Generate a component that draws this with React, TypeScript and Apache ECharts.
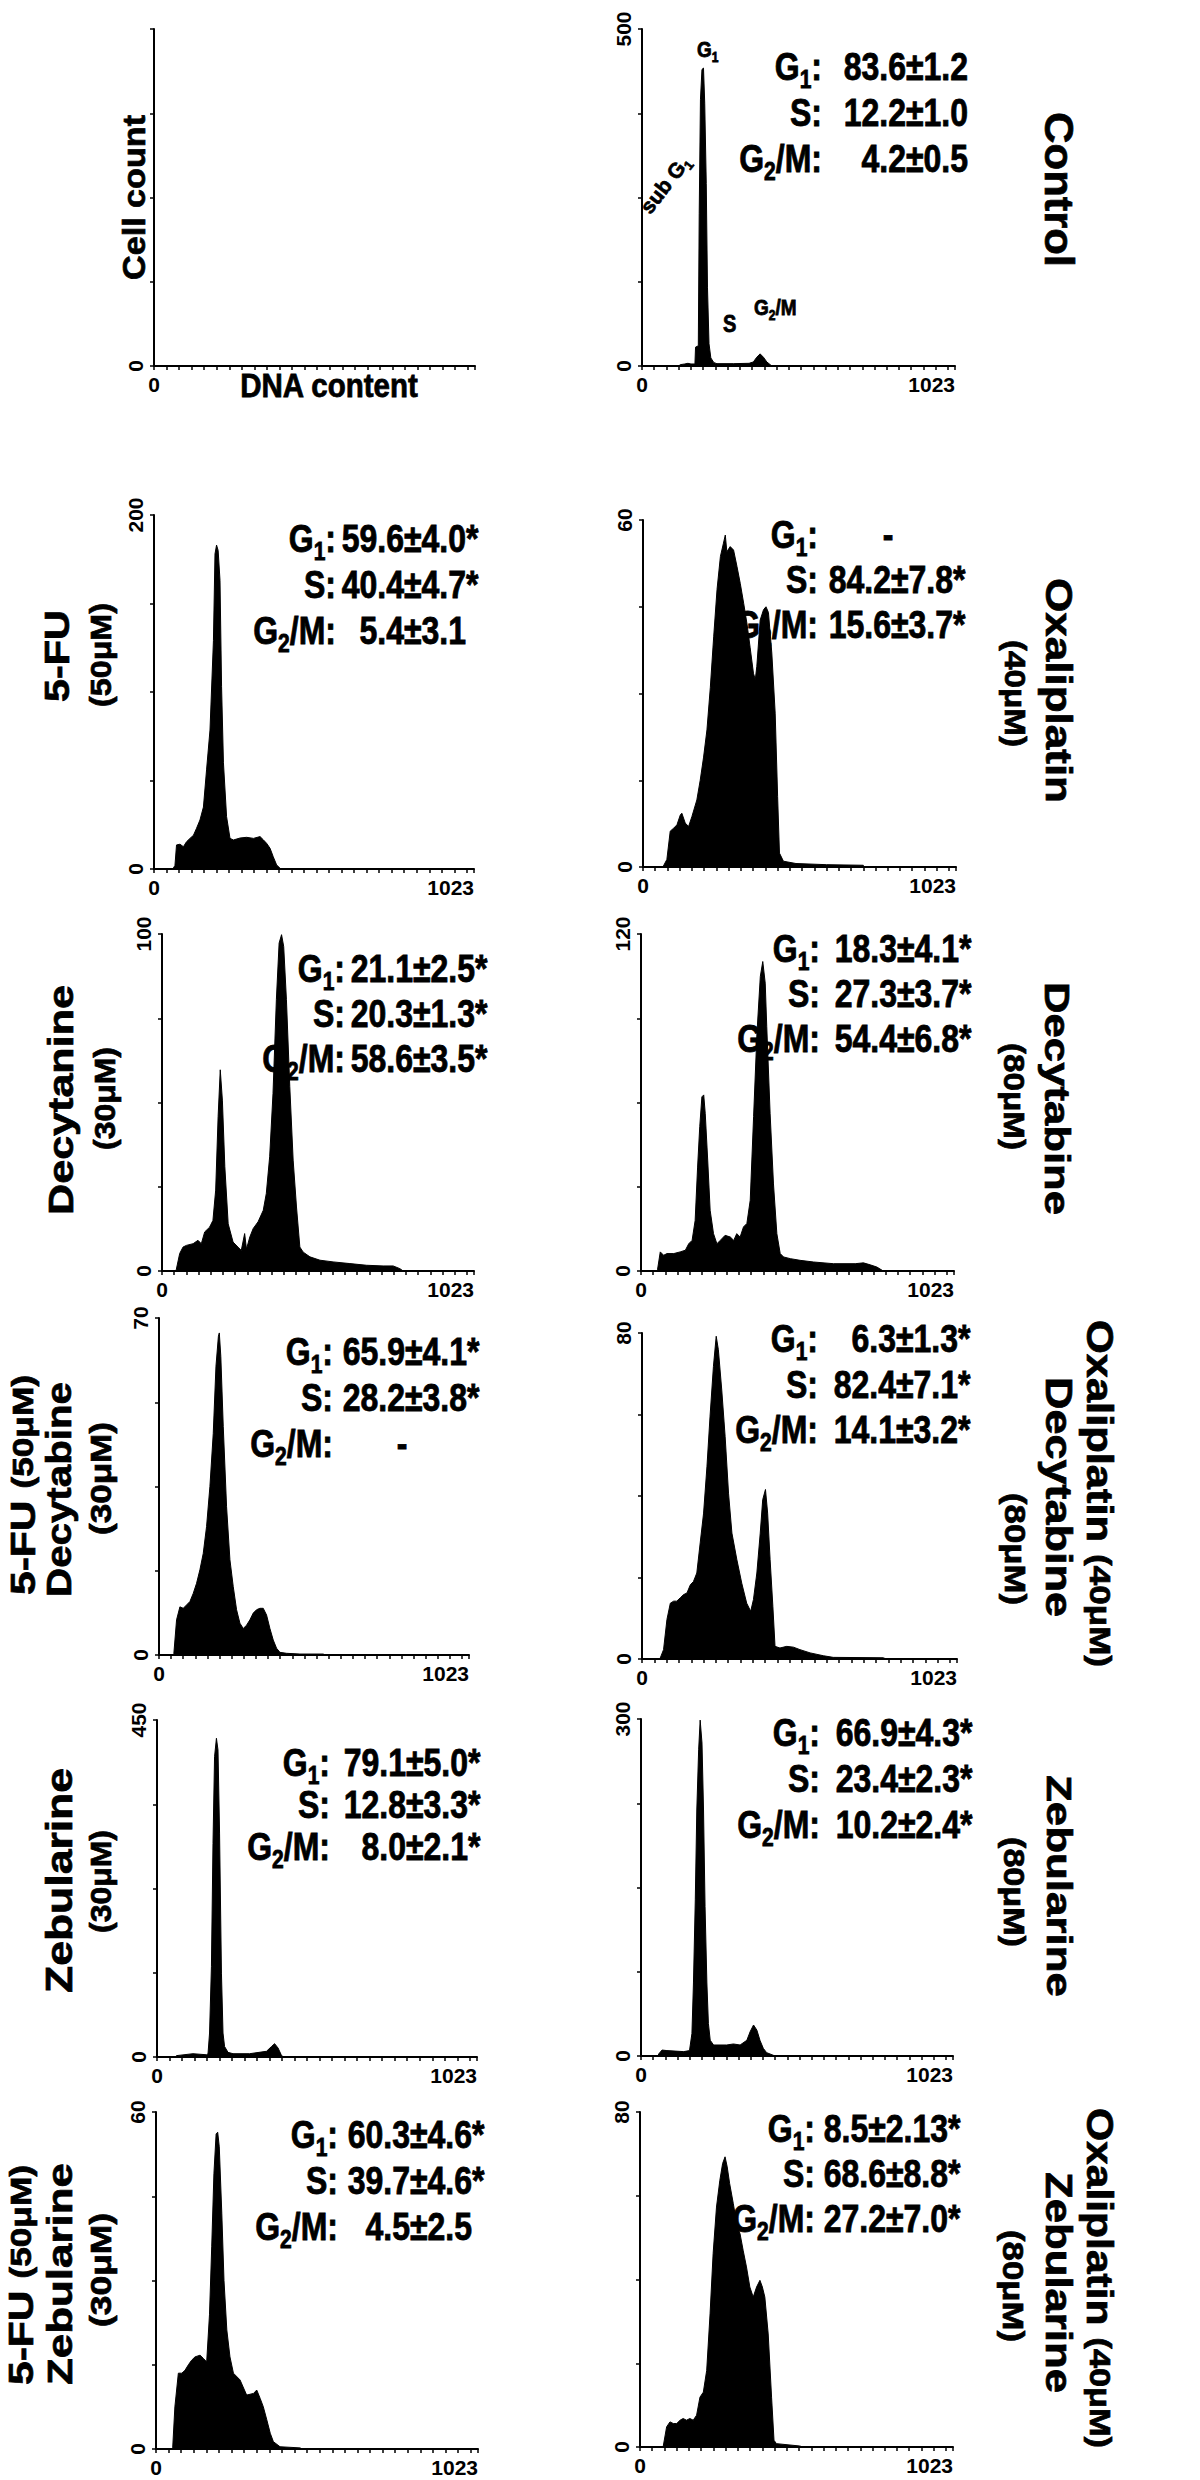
import React, { useEffect, useRef } from "react";
import * as echarts from "echarts";

const FONT = "'Liberation Sans', Arial, Helvetica, sans-serif";

// ---------- axes ----------
const X_MAX = 1023;
const X_TICK_STEP = 40;
const X_LABELS = [0, 1023];
const X_LABELS_BLANK = [0];

// panel order: row by row, left then right
const PANEL_NAMES = [
  "Template", "Control", "5-FU", "Oxaliplatin", "Decytanine 30", "Decytabine 80",
  "5-FU + Decytabine", "Oxaliplatin + Decytabine", "Zebularine 30", "Zebularine 80",
  "5-FU + Zebularine", "Oxaliplatin + Zebularine",
];
const Y_MAX = [500, 500, 200, 60, 100, 120, 70, 80, 450, 300, 60, 80];

// ---------- histograms: [DNA content channel, cell count] ----------
const HIST_CONTROL = [[120,0],[125,2],[140,3],[150,4],[160,3],[173,3],[175,28],[184,30],[187,226],[191,395],[196,440],[201,442],[205,390],[210,271],[214,117],[219,33],[225,12],[235,5],[245,3.5],[300,3.5],[350,4],[364,6],[375,13],[386,18],[397,13],[408,6],[419,2],[425,0]];
const HIST_FU = [[60,0],[67,2],[72,13.6],[83,14],[94,12.6],[104,15.4],[115,17.3],[126,19],[136,23],[147,27.7],[158,35],[168,56],[179,78.5],[190,129],[195,178],[200,183],[205,180],[211,163],[216,103],[222,60],[232,29.6],[243,17.3],[254,16.4],[275,17.5],[296,17.9],[318,17.3],[339,18.3],[350,16.4],[360,14.5],[371,11.7],[381,7],[392,2.3],[403,0.4],[408,0]];
const HIST_OXA = [[65,0],[78,1.3],[89,6.2],[100,6.7],[111,7.3],[122,9],[127,9.3],[138,7.6],[149,7],[160,8.75],[176,11.6],[187,15],[198,19],[209,23.7],[220,31],[231,39.8],[242,48],[253,53.7],[263,56],[269,57.4],[274,54.5],[285,55.4],[296,54.8],[307,52],[318,49],[329,45.6],[340,42],[350,38],[361,33.5],[367,32.4],[372,34.7],[383,42.7],[394,44.5],[402,45],[410,44],[421,37],[432,26.6],[440,12.2],[446,2.4],[459,1],[500,0.6],[600,0.4],[720,0.3],[722,0]];
const HIST_DEC30 = [[45,0],[47,0.5],[58,5.2],[69,7.1],[80,7.6],[102,8.1],[118,9.1],[129,8.1],[140,11.6],[156,13],[167,15],[176,24],[184,45.8],[191,59.7],[198,50.7],[206,31],[217,14],[233,8.6],[249,7.1],[260,6.1],[271,11.1],[277,6.5],[288,10.1],[299,12.6],[315,14.6],[332,18],[342,23],[353,33.9],[364,52.7],[375,80.5],[384,97.3],[392,99.8],[399,96.3],[408,80.5],[419,54.7],[430,32.9],[441,19],[452,7.1],[463,5.6],[485,4.2],[518,3.2],[561,2.7],[616,2.2],[671,1.7],[725,1.5],[758,1.5],[780,0.7],[791,0]];
const HIST_DEC80 = [[52,0],[54,0.5],[63,6.8],[74,5.6],[85,6.2],[107,6.2],[128,6.8],[145,7.4],[156,9.7],[167,10.9],[177,18],[185,37],[192,51.4],[199,62],[205,62.7],[210,56],[218,39.5],[226,21.6],[237,13.3],[248,9.7],[259,10.9],[275,12.7],[292,12.1],[303,10.9],[313,13.3],[324,12.1],[335,15.7],[346,16.9],[357,25.2],[368,55],[379,84.7],[390,104.9],[398,110.2],[406,102.5],[411,87],[422,56],[433,31],[444,13.3],[455,6.2],[466,5],[488,4.4],[520,3.8],[564,3.2],[629,2.6],[700,2.6],[727,2.9],[749,2.2],[771,1.4],[792,0]];
const HIST_FU_DEC = [[47,0],[49,0.3],[58,7.3],[69,10],[80,9.7],[91,10.4],[102,11.1],[113,12.8],[124,14.9],[135,17.7],[146,21.1],[157,26.7],[168,35],[179,46],[188,60],[196,66.2],[199,66.9],[204,62],[212,47.5],[223,30.8],[234,19.8],[245,14.2],[256,9.4],[267,6.6],[278,5.5],[289,6.2],[300,7.3],[311,8.7],[322,9.4],[333,9.7],[344,9.7],[355,8.3],[366,5.5],[377,3.1],[388,1.4],[399,0.55],[421,0.35],[465,0.2],[542,0.2],[547,0]];
const HIST_OXA_DEC = [[57,0],[59,0.2],[70,2.3],[81,9.7],[92,13.7],[103,14.2],[113,14.2],[124,15],[135,15.8],[146,16.2],[157,18.2],[167,19],[178,21.1],[189,28.5],[200,35.8],[211,47.3],[221,59.6],[232,71.8],[241,79.2],[248,75.9],[259,66],[270,54.6],[281,40.7],[292,30.9],[308,24.4],[324,18.6],[340,13.7],[353,11.7],[362,14.6],[373,21.1],[384,30.9],[392,39.1],[401,41.6],[408,35.8],[416,24.4],[425,12.9],[432,3.1],[448,2.7],[470,3.1],[492,2.9],[513,2.3],[546,1.5],[589,0.8],[621,0.4],[783,0.3],[794,0]];
const HIST_ZEB30 = [[60,0],[62,1.8],[115,4.4],[158,3],[163,4],[168,32],[174,121],[179,285],[184,401],[190,425.6],[195,410],[200,299],[206,112],[211,32],[216,14],[227,6.2],[243,4.4],[296,4.4],[350,7.6],[366,14],[376,17.8],[387,12],[397,3],[403,0]];
const HIST_ZEB80 = [[56,0],[58,1.8],[69,5.3],[85,4.8],[140,3.9],[159,4.8],[167,20],[172,65],[178,139],[183,219],[189,272.6],[194,299],[200,278.6],[205,219],[210,133],[216,65],[221,29],[227,14],[238,9.8],[281,9.8],[303,10.7],[325,9.8],[347,14],[358,21.7],[369,27.6],[380,23],[390,14],[401,6.8],[412,3],[434,0.6],[440,0]];
const HIST_FU_ZEB = [[51,0],[53,0.2],[60,7.5],[71,13.5],[82,13.5],[92,14],[103,15],[113,15.8],[124,16.4],[140,16.7],[151,16.1],[161,15.5],[170,24],[177,36],[184,49],[191,56.1],[196,56.4],[201,53.8],[209,42],[216,30],[225,21.2],[235,16.4],[246,13.5],[267,12.3],[288,9.6],[310,9.9],[320,10.5],[331,9],[341,7.5],[352,5.2],[363,2.8],[373,1.3],[394,0.4],[458,0.2],[463,0]];
const HIST_OXA_ZEB = [[74,0],[76,0.2],[87,4.8],[98,6],[109,5.6],[120,5.6],[131,6.4],[141,6.8],[152,6.4],[163,6.8],[174,6.4],[185,7.6],[196,11.9],[207,13.1],[218,18.3],[229,31.8],[239,46.2],[250,57.3],[261,63.7],[270,67.7],[278,69.3],[285,66.9],[293,62.9],[305,58.1],[316,53.3],[327,50.9],[337,47],[348,43],[359,38.2],[370,35.8],[381,38.2],[392,39.8],[400,38.2],[408,35.8],[419,27],[430,11.9],[438,1.6],[446,0.8],[522,0.24],[533,0]];

const HISTS: number[][][] = [
  [], HIST_CONTROL, HIST_FU, HIST_OXA, HIST_DEC30, HIST_DEC80,
  HIST_FU_DEC, HIST_OXA_DEC, HIST_ZEB30, HIST_ZEB80, HIST_FU_ZEB, HIST_OXA_ZEB,
];

// ---------- cell-cycle percentages (label, value) ----------
const STATS_CONTROL = [["G_1:", "83.6±1.2"], ["S:", "12.2±1.0"], ["G_2/M:", "4.2±0.5"]];
const STATS_FU = [["G_1:", "59.6±4.0*"], ["S:", "40.4±4.7*"], ["G_2/M:", "5.4±3.1"]];
const STATS_OXA = [["G_1:", "-"], ["S:", "84.2±7.8*"], ["G_2/M:", "15.6±3.7*"]];
const STATS_DEC30 = [["G_1:", "21.1±2.5*"], ["S:", "20.3±1.3*"], ["G_2/M:", "58.6±3.5*"]];
const STATS_DEC80 = [["G_1:", "18.3±4.1*"], ["S:", "27.3±3.7*"], ["G_2/M:", "54.4±6.8*"]];
const STATS_FU_DEC = [["G_1:", "65.9±4.1*"], ["S:", "28.2±3.8*"], ["G_2/M:", "-"]];
const STATS_OXA_DEC = [["G_1:", "6.3±1.3*"], ["S:", "82.4±7.1*"], ["G_2/M:", "14.1±3.2*"]];
const STATS_ZEB30 = [["G_1:", "79.1±5.0*"], ["S:", "12.8±3.3*"], ["G_2/M:", "8.0±2.1*"]];
const STATS_ZEB80 = [["G_1:", "66.9±4.3*"], ["S:", "23.4±2.3*"], ["G_2/M:", "10.2±2.4*"]];
const STATS_FU_ZEB = [["G_1:", "60.3±4.6*"], ["S:", "39.7±4.6*"], ["G_2/M:", "4.5±2.5"]];
const STATS_OXA_ZEB = [["G_1:", "8.5±2.13*"], ["S:", "68.6±8.8*"], ["G_2/M:", "27.2±7.0*"]];

const STATS: (string[][] | null)[] = [
  null, STATS_CONTROL, STATS_FU, STATS_OXA, STATS_DEC30, STATS_DEC80,
  STATS_FU_DEC, STATS_OXA_DEC, STATS_ZEB30, STATS_ZEB80, STATS_FU_ZEB, STATS_OXA_ZEB,
];

// ---------- layout (pixels) ----------
// [left, top, right, bottom] of each plotting area
const GRID_BOXES = [
  [154, 29, 475, 366], [642, 29, 955, 366],
  [154, 515, 474, 869], [643, 520, 956, 867],
  [162, 934, 474, 1271], [641, 934, 954, 1271],
  [159, 1318, 469, 1655], [642, 1333, 957, 1659],
  [157, 1720, 477, 2057], [641, 1719, 953, 2056],
  [156, 2112, 478, 2449], [640, 2112, 953, 2447],
];
// [colon right x, value right x, first baseline y, line step]
const STATS_LAYOUT: (number[] | null)[] = [
  null, [822, 968, 80, 46],
  [336, 466, 552, 46], [818, 953, 548, 45],
  [345, 475, 982, 45], [820, 959, 962, 45],
  [333, 467, 1365, 46], [818, 958, 1352, 45.5],
  [330, 468, 1776, 42], [820, 960, 1746, 46],
  [338, 472, 2148, 46], [815, 948, 2142, 45],
];
const STAT_FONT = 32;
const STAT_SUB = 21;
const STAT_STRETCH = 1.2;

type Side = "L" | "R";
const SIDE_LABELS: { tokens: [string, number][]; side: Side; cx: number; y0: number; y1: number }[] = [
  { tokens: [["Cell count", 32]], side: "L", cx: 134, y0: 115, y1: 280 },
  { tokens: [["5-FU", 35]], side: "L", cx: 57, y0: 610, y1: 702 },
  { tokens: [["(50μM)", 29]], side: "L", cx: 101, y0: 603, y1: 707 },
  { tokens: [["Decytanine", 36]], side: "L", cx: 60, y0: 985, y1: 1215 },
  { tokens: [["(30μM)", 29]], side: "L", cx: 105, y0: 1047, y1: 1150 },
  { tokens: [["5-FU ", 35], ["(50μM)", 29]], side: "L", cx: 23, y0: 1375, y1: 1595 },
  { tokens: [["Decytabine", 36]], side: "L", cx: 58, y0: 1382, y1: 1597 },
  { tokens: [["(30μM)", 29]], side: "L", cx: 101, y0: 1422, y1: 1535 },
  { tokens: [["Zebularine", 36]], side: "L", cx: 60, y0: 1768, y1: 1993 },
  { tokens: [["(30μM)", 29]], side: "L", cx: 101, y0: 1830, y1: 1933 },
  { tokens: [["5-FU ", 35], ["(50μM)", 29]], side: "L", cx: 21, y0: 2165, y1: 2385 },
  { tokens: [["Zebularine", 36]], side: "L", cx: 60, y0: 2163, y1: 2385 },
  { tokens: [["(30μM)", 29]], side: "L", cx: 101, y0: 2213, y1: 2327 },
  { tokens: [["Control", 40]], side: "R", cx: 1059, y0: 112, y1: 267 },
  { tokens: [["Oxaliplatin", 36]], side: "R", cx: 1058, y0: 578, y1: 803 },
  { tokens: [["(40μM)", 29]], side: "R", cx: 1015, y0: 640, y1: 747 },
  { tokens: [["Decytabine", 36]], side: "R", cx: 1058, y0: 982, y1: 1215 },
  { tokens: [["(80μM)", 29]], side: "R", cx: 1014, y0: 1043, y1: 1150 },
  { tokens: [["Oxaliplatin ", 36], ["(40μM)", 29]], side: "R", cx: 1100, y0: 1320, y1: 1667 },
  { tokens: [["Decytabine", 36]], side: "R", cx: 1058, y0: 1377, y1: 1617 },
  { tokens: [["(80μM)", 29]], side: "R", cx: 1015, y0: 1493, y1: 1605 },
  { tokens: [["Zebularine", 36]], side: "R", cx: 1059, y0: 1775, y1: 1997 },
  { tokens: [["(80μM)", 29]], side: "R", cx: 1014, y0: 1837, y1: 1947 },
  { tokens: [["Oxaliplatin ", 36], ["(40μM)", 29]], side: "R", cx: 1100, y0: 2108, y1: 2448 },
  { tokens: [["Zebularine", 36]], side: "R", cx: 1059, y0: 2172, y1: 2393 },
  { tokens: [["(80μM)", 29]], side: "R", cx: 1013, y0: 2230, y1: 2342 },
];

// ---------- helpers ----------
let measureCtx: CanvasRenderingContext2D | null = null;
function measure(text: string, size: number): number {
  if (!measureCtx) measureCtx = document.createElement("canvas").getContext("2d");
  if (!measureCtx) return text.length * size * 0.55;
  measureCtx.font = `bold ${size}px ${FONT}`;
  return measureCtx.measureText(text).width;
}

function richOf(label: string): string {
  let out = "";
  let i = 0;
  while (i < label.length) {
    if (label[i] === "_") {
      out += `{s|${label[i + 1]}}`;
      i += 2;
      continue;
    }
    let j = i;
    while (j < label.length && label[j] !== "_") j++;
    out += `{m|${label.slice(i, j)}}`;
    i = j;
  }
  return out;
}

const INK = { fill: "#000", stroke: "#000", lineWidth: 0.7 };

// horizontal (or tilted) text, anchored at its baseline
function hText(str: string, x: number, baseline: number, f: number, subF: number,
  align: string, stretch: number, rotation = 0) {
  const L = Math.round(f * 1.3);
  const off = L / 2 + 0.3465 * f;
  return {
    type: "text", x, y: baseline, rotation, scaleY: stretch, silent: true, z: 5,
    style: {
      x: 0, y: -off, text: richOf(str), align, verticalAlign: "top", ...INK,
      fontSize: f, fontWeight: "bold", fontFamily: FONT, lineHeight: L,
      rich: {
        m: { fontSize: f, fontWeight: "bold", fontFamily: FONT, lineHeight: L, ...INK },
        s: { fontSize: subF, fontWeight: "bold", fontFamily: FONT, lineHeight: subF, height: subF, verticalAlign: "bottom", ...INK },
      },
    },
  };
}

function vText(lbl: { tokens: [string, number][]; side: Side; cx: number; y0: number; y1: number }) {
  const w = lbl.tokens.reduce((a, [t, f]) => a + measure(t, f), 0);
  const stretch = (lbl.y1 - lbl.y0) / w;
  const rich: any = {};
  let text = "";
  lbl.tokens.forEach(([t, f], i) => {
    rich["t" + i] = { fontSize: f, fontWeight: "bold", fontFamily: FONT, lineHeight: Math.round(f * 1.3), ...INK };
    text += `{t${i}|${t}}`;
  });
  return {
    type: "text", x: lbl.cx, y: (lbl.y0 + lbl.y1) / 2,
    rotation: lbl.side === "L" ? Math.PI / 2 : -Math.PI / 2, scaleX: stretch, silent: true, z: 5,
    style: { x: 0, y: 0, text, rich, align: "center", verticalAlign: "middle", ...INK, fontFamily: FONT, fontWeight: "bold" },
  };
}

function buildOption() {
  const grid: any[] = [];
  const xAxis: any[] = [];
  const yAxis: any[] = [];
  const series: any[] = [];
  const graphic: any[] = [];
  const axisLabelBase = {
    fontSize: 21, fontWeight: "bold", fontFamily: FONT, color: "#000", margin: 8,
    formatter: (v: number) => String(v),
  };
  const axisLine = { show: true, onZero: false, lineStyle: { color: "#000", width: 2 } };
  const axisTick = { show: true, inside: false, length: 4, lineStyle: { color: "#000", width: 1.5 } };

  GRID_BOXES.forEach(([l, t, r, b], i) => {
    grid.push({ left: l, top: t, width: r - l, height: b - t, containLabel: false });
    xAxis.push({
      type: "value", gridIndex: i, min: 0, max: X_MAX, interval: X_TICK_STEP,
      axisLine, axisTick, splitLine: { show: false },
      axisLabel: { ...axisLabelBase, customValues: i === 0 ? X_LABELS_BLANK : X_LABELS, alignMaxLabel: "right" },
    });
    yAxis.push({
      type: "value", gridIndex: i, min: 0, max: Y_MAX[i], interval: Y_MAX[i] / 4,
      axisLine, axisTick, splitLine: { show: false },
      axisLabel: { ...axisLabelBase, rotate: 90, customValues: i === 0 ? [0] : [0, Y_MAX[i]] },
    });
    if (HISTS[i].length) {
      series.push({
        name: PANEL_NAMES[i], type: "line", xAxisIndex: i, yAxisIndex: i, data: HISTS[i],
        symbol: "none", showSymbol: false, silent: true, z: 2,
        lineStyle: { color: "#000", width: 1 }, areaStyle: { color: "#000", opacity: 1 },
      });
    }
  });

  // percentages
  STATS.forEach((rows, i) => {
    const lay = STATS_LAYOUT[i];
    if (!rows || !lay) return;
    const [colX, valX, y0, dy] = lay;
    rows.forEach(([label, value], k) => {
      const yb = y0 + k * dy;
      graphic.push(hText(label, colX, yb, STAT_FONT, STAT_SUB, "right", STAT_STRETCH));
      if (value === "-") {
        graphic.push(hText("-", valX - 65, yb, STAT_FONT, STAT_SUB, "center", STAT_STRETCH));
      } else {
        const star = value.endsWith("*");
        const v = star ? value.slice(0, -1) : value;
        graphic.push(hText(v, valX, yb, STAT_FONT, STAT_SUB, "right", STAT_STRETCH));
        if (star) graphic.push(hText("*", valX, yb, STAT_FONT, STAT_SUB, "left", STAT_STRETCH));
      }
    });
  });

  // control peak annotations
  graphic.push(hText("G_1", 697, 57, 19, 12, "left", 1.15));
  graphic.push(hText("sub G_1", 650, 215, 21, 13, "left", 1, (52 * Math.PI) / 180));
  graphic.push(hText("S", 723, 332, 20, 12, "left", 1.15));
  graphic.push(hText("G_2/M", 754, 315, 19, 12, "left", 1.15));

  // axis title
  graphic.push(hText("DNA content", 329, 397, 29.5, 18, "center", 1.1));

  SIDE_LABELS.forEach((lbl) => graphic.push(vText(lbl)));

  return {
    animation: false,
    backgroundColor: "#fff",
    grid, xAxis, yAxis, series, graphic,
  };
}

export default function App() {
  const ref = useRef<HTMLDivElement>(null);
  useEffect(() => {
    document.body.style.margin = "0";
    if (!ref.current) return;
    const chart = echarts.init(ref.current, null, { renderer: "svg", width: 1200, height: 2480 });
    chart.setOption(buildOption() as any);
    return () => chart.dispose();
  }, []);
  return <div ref={ref} style={{ position: "absolute", left: 0, top: 0, width: 1200, height: 2480 }} />;
}
